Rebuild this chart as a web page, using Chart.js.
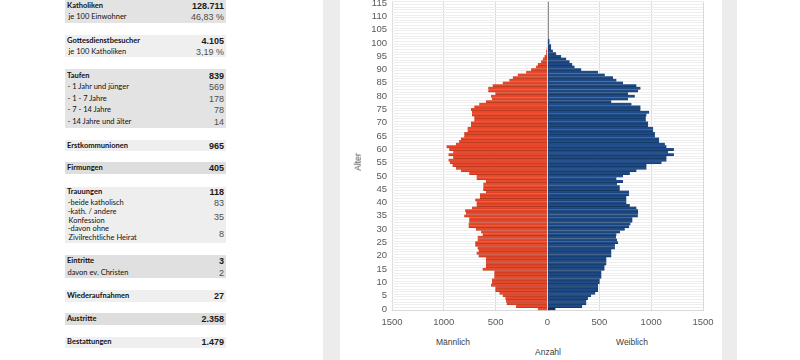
<!DOCTYPE html>
<html><head><meta charset="utf-8">
<script src="https://cdn.jsdelivr.net/npm/chart.js@4/dist/chart.umd.min.js"></script>
<style>
html,body{margin:0;padding:0;width:800px;height:360px;overflow:hidden;background:#fff;font-family:"Liberation Sans",Arial,sans-serif;}
.strip{position:absolute;top:0;height:360px;background:#ececec;}
#wrap{position:absolute;left:340px;top:-20px;width:380px;height:355px;}
.blk{position:absolute;left:65px;width:161px;}
.lbl{position:absolute;font-family:Lato,"Open Sans",sans-serif;font-size:7.5px;color:#111;white-space:nowrap;line-height:1;transform:translateY(-50%);}
.lbl.b{font-weight:bold;}
.val{position:absolute;right:576px;font-size:9px;color:#4d4d4d;white-space:nowrap;line-height:1;transform:translateY(-50%);}
.val.b{font-weight:bold;color:#1a1a1a;}
.ax{position:absolute;font-family:"Liberation Sans",Arial,sans-serif;font-size:8.5px;color:#404040;white-space:nowrap;line-height:1;transform:translate(-50%,-50%);}
</style>
</head><body>
<div class="strip" style="left:323px;width:17px;"></div>
<div class="strip" style="left:722px;width:15px;"></div>
<div id="table"></div>
<div id="wrap"><canvas id="c" width="380" height="355"></canvas></div>
<div class="ax" style="left:453px;top:342px;">Männlich</div>
<div class="ax" style="left:632px;top:342px;">Weiblich</div>
<div class="ax" style="left:548px;top:352px;">Anzahl</div>
<div class="ax" style="left:358px;top:162px;transform:translate(-50%,-50%) rotate(-90deg);">Alter</div>
<script>
// ---- Chart data ----
const ages = [0,1,2,3,4,5,6,7,8,9,10,11,12,13,14,15,16,17,18,19,20,21,22,23,24,25,26,27,28,29,30,31,32,33,34,35,36,37,38,39,40,41,42,43,44,45,46,47,48,49,50,51,52,53,54,55,56,57,58,59,60,61,62,63,64,65,66,67,68,69,70,71,72,73,74,75,76,77,78,79,80,81,82,83,84,85,86,87,88,89,90,91,92,93,94,95,96,97,98,99,100,101,102,103,104,105,106,107,108,109,110,111,112,113,114,115];
const maleCounts = [94,303,394,400,406,432,464,503,503,546,535,535,513,513,513,626,594,594,594,594,665,684,665,675,697,697,674,674,626,640,690,761,761,755,755,803,787,794,729,684,684,697,652,652,594,620,619,619,594,684,684,755,836,884,916,942,955,910,955,910,948,974,884,852,835,803,803,771,771,739,739,706,706,729,729,739,706,658,594,535,545,503,571,571,529,432,368,335,287,206,158,110,94,61,45,29,13,13,8,5,3,0,0,0,0,0,0,0,0,0,0,0,0,0,0,0];
const femaleCounts = [77,335,374,374,390,420,461,487,487,487,503,503,520,520,520,550,550,568,568,568,616,616,616,650,650,680,670,660,665,700,745,787,800,819,819,871,874,874,858,794,761,761,761,787,787,697,697,671,729,665,729,794,858,955,955,1100,1148,1148,1219,1164,1219,1148,1132,1077,1077,1036,1036,1019,1019,971,971,948,948,955,981,897,897,810,616,777,842,777,874,897,858,729,665,632,552,487,326,261,239,213,181,132,84,52,35,35,19,19,0,0,0,0,0,0,0,0,0,0,0,0,0,0];
const xTickValues = [-1500,-1000,-500,0,500,1000,1500];
const seriesNames = ["Männlich","Weiblich"];

// ---- Table data ----
const blocks = [
  {top:0, h:23, bg:"#e3e3e3", rows:[["Katholiken","128.711",1,6,67,6],["je 100 Einwohner","46,83 %",0,17.3,68.5,17.3]]},
  {top:35, h:22, bg:"#efefef", rows:[["Gottesdienstbesucher","4.105",1,40.7,67,40.7],["je 100 Katholiken","3,19 %",0,52.3,68.5,52.3]]},
  {top:69, h:58.5, bg:"#e3e3e3", rows:[["Taufen","839",1,75.7,67,75.7],["- 1 Jahr und jünger","569",0,87.3,67.5,87.3],["- 1 - 7  Jahre","178",0,99,67.5,99],["- 7 - 14 Jahre","78",0,110.3,67.5,110.3],["- 14 Jahre und älter","14",0,122,67.5,122]]},
  {top:140, h:11, bg:"#efefef", rows:[["Erstkommunionen","965",1,145.7,67,145.7]]},
  {top:162.3, h:11.7, bg:"#dedede", rows:[["Firmungen","405",1,168.3,67,168.3]]},
  {top:186.7, h:56.6, bg:"#eeeeee", rows:[["Trauungen","118",1,192,67,192],["-beide katholisch","83",0,203.3,67.7,203.3],["-kath. / andere","35",0,212.3,67.7,217.3],[" Konfession","",0,221,68.5,221],["-davon ohne","8",0,229.3,67.7,234.3],[" Zivilrechtliche Heirat","",0,238.3,68.5,238.3]]},
  {top:255, h:23.3, bg:"#e0e0e0", rows:[["Eintritte","3",1,261,67,261],[" davon ev. Christen","2",0,273.3,67.5,273.3]]},
  {top:290, h:11.7, bg:"#efefef", rows:[["Wiederaufnahmen","27",1,296,67,296]]},
  {top:313.3, h:11.7, bg:"#dedede", rows:[["Austritte","2.358",1,319.3,67,319.3]]},
  {top:336.7, h:11.6, bg:"#efefef", rows:[["Bestattungen","1.479",1,342.3,67,342.3]]}
];
const tbl = document.getElementById('table');
blocks.forEach(b=>{
  const d=document.createElement('div');d.className='blk';d.style.top=b.top+'px';d.style.height=b.h+'px';d.style.background=b.bg;tbl.appendChild(d);
  b.rows.forEach(r=>{
    const l=document.createElement('div');l.className='lbl'+(r[2]?' b':'');l.textContent=r[0];l.style.left=r[4]+'px';l.style.top=r[3]+'px';tbl.appendChild(l);
    if(r[1]!==""){const v=document.createElement('div');const isMain=r[2]===1;v.className='val'+(isMain?' b':'');v.textContent=r[1];v.style.top=r[5]+'px';tbl.appendChild(v);}
  });
});

// ---- Zero line plugin (drawn through the x scale, under the bars) ----
const zeroLine = {
  id:'zeroLine',
  beforeDatasetsDraw(chart){
    const x = chart.scales.x.getPixelForValue(0);
    const a = chart.chartArea, c = chart.ctx;
    c.save(); c.strokeStyle='#8c8c8c'; c.lineWidth=1;
    c.beginPath(); c.moveTo(Math.round(x)+0.5,a.top); c.lineTo(Math.round(x)+0.5,a.bottom); c.stroke(); c.restore();
  }
};

// ---- Chart ----
const ctx = document.getElementById('c').getContext('2d');
new Chart(ctx,{
  type:'bar',
  plugins:[zeroLine],
  data:{
    labels: ages,
    datasets:[
      {label:seriesNames[0], data: maleCounts.map(v=>-v), backgroundColor:'#e8482b', borderColor:'#b5381f', borderWidth:{top:0,bottom:0.8,left:0,right:0}, borderSkipped:false, barPercentage:1, categoryPercentage:1},
      {label:seriesNames[1], data: femaleCounts, backgroundColor:(c)=>c.dataIndex===0?'#17264f':'#1f4b88', borderColor:'#15375f', borderWidth:{top:0,bottom:0.8,left:0,right:0}, borderSkipped:false, barPercentage:1, categoryPercentage:1}
    ]
  },
  options:{
    indexAxis:'y',
    responsive:false,
    animation:false,
    devicePixelRatio:1,
    layout:{padding:{top:21.7,right:17,bottom:0,left:0}},
    plugins:{legend:{display:false},tooltip:{enabled:false}},
    scales:{
      x:{
        type:'linear', stacked:true, min:-1500, max:1500,
        afterBuildTicks:(s)=>{s.ticks = xTickValues.map(v=>({value:v}));},
        afterFit:(s)=>{s.height=24.7;},
        ticks:{callback:(v)=>Math.abs(v), color:'#595959', font:{family:'Liberation Sans', size:9.5}, padding:6, maxRotation:0},
        grid:{color:'#d9d9d9', drawTicks:false},
        border:{display:true,color:'#d9d9d9'}
      },
      y:{
        type:'category', stacked:true, reverse:true,
        afterFit:(s)=>{s.width=52;},
        ticks:{autoSkip:false, callback:function(v,i){const a=ages[i];return a%5===0?String(a):'';}, color:'#595959', font:{family:'Liberation Sans', size:9.5}, padding:5},
        grid:{color:'#eeeeee', drawTicks:false, offset:true},
        border:{display:false}
      }
    }
  }
});
</script>
</body></html>
